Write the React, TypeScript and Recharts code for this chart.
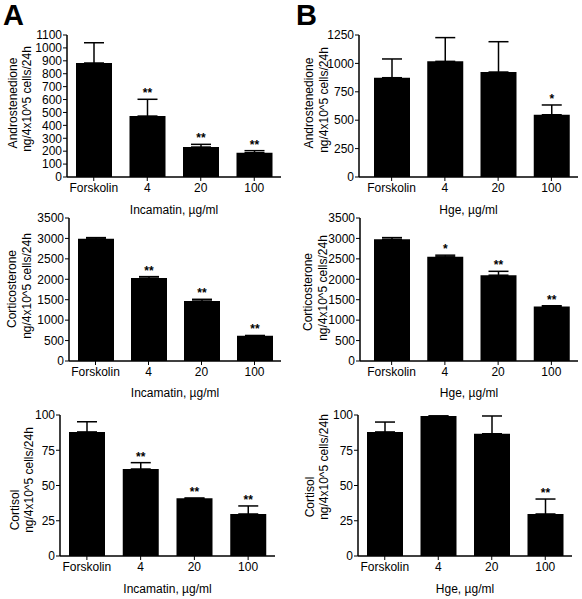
import React from "react";
import { BarChart, Bar, XAxis, YAxis, ErrorBar, LabelList } from "recharts";

const categories = ["Forskolin", "4", "20", "100"];

// A: Incamatin
const androIncValues = [883, 472, 232, 188];
const androIncErr = [157, 130, 21, 16];
const androIncSig = ["", "**", "**", "**"];

const corticoIncValues = [2990, 2030, 1468, 615];
const corticoIncErr = [30, 35, 42, 10];
const corticoIncSig = ["", "**", "**", "**"];

const cortisolIncValues = [88, 61.7, 41, 29.8];
const cortisolIncErr = [7.2, 4.5, 0, 5.7];
const cortisolIncSig = ["", "**", "**", "**"];

// B: Hge
const androHgeValues = [874, 1018, 924, 548];
const androHgeErr = [165, 209, 267, 86];
const androHgeSig = ["", "", "", "*"];

const corticoHgeValues = [2980, 2550, 2100, 1335];
const corticoHgeErr = [40, 40, 95, 18];
const corticoHgeSig = ["", "*", "**", "**"];

const cortisolHgeValues = [88, 99.3, 86.7, 29.8];
const cortisolHgeErr = [7, 0, 12.6, 10.6];
const cortisolHgeSig = ["", "", "", "**"];

const androIncTicks = [0, 100, 200, 300, 400, 500, 600, 700, 800, 900, 1000, 1100];
const androHgeTicks = [0, 250, 500, 750, 1000, 1250];
const corticoTicks = [0, 500, 1000, 1500, 2000, 2500, 3000, 3500];
const cortisolTicks = [0, 25, 50, 75, 100];

const unitLabel = "ng/4x10^5 cells/24h";

type Row = { name: string; value: number; err: number[]; errUp: number; sig: string };

const makeRows = (values: number[], err: number[], sig: string[]): Row[] =>
  categories.map((name, i) => ({
    name,
    value: values[i],
    err: [0, err[i]],
    errUp: err[i],
    sig: sig[i],
  }));

// lab: distance of each y-title line from the axis, labY: centre of each line (local px)
const panels = [
  {
    rows: makeRows(androIncValues, androIncErr, androIncSig),
    ticks: androIncTicks, yTitle: "Androstenedione", xTitle: "Incamatin, µg/ml",
    left: 0, top: 0, h: 220, axisW: 67, mRight: 10, mTop: 35, xH: 43, padL: 0,
    lab: [54, 40], labY: [103, 99], xLabDy: 33,
  },
  {
    rows: makeRows(androHgeValues, androHgeErr, androHgeSig),
    ticks: androHgeTicks, yTitle: "Androstenedione", xTitle: "Hge, µg/ml",
    left: 291, top: 0, h: 220, axisW: 68, mRight: 4, mTop: 35, xH: 43, padL: 6,
    lab: [50, 35], labY: [103, 100], xLabDy: 33,
  },
  {
    rows: makeRows(corticoIncValues, corticoIncErr, corticoIncSig),
    ticks: corticoTicks, yTitle: "Corticosterone", xTitle: "Incamatin, µg/ml",
    left: 0, top: 200, h: 220, axisW: 69, mRight: 10, mTop: 18, xH: 59, padL: 0,
    lab: [57, 42], labY: [89, 86], xLabDy: 32,
  },
  {
    rows: makeRows(corticoHgeValues, corticoHgeErr, corticoHgeSig),
    ticks: corticoTicks, yTitle: "Corticosterone", xTitle: "Hge, µg/ml",
    left: 291, top: 200, h: 220, axisW: 69, mRight: 4, mTop: 18, xH: 59, padL: 5,
    lab: [52, 37], labY: [92, 88], xLabDy: 32,
  },
  {
    rows: makeRows(cortisolIncValues, cortisolIncErr, cortisolIncSig),
    ticks: cortisolTicks, yTitle: "Cortisol", xTitle: "Incamatin, µg/ml",
    left: 0, top: 400, h: 199, axisW: 60, mRight: 16, mTop: 15, xH: 43, padL: 0,
    lab: [45, 31], labY: [110, 80], xLabDy: 33,
  },
  {
    rows: makeRows(cortisolHgeValues, cortisolHgeErr, cortisolHgeSig),
    ticks: cortisolTicks, yTitle: "Cortisol", xTitle: "Hge, µg/ml",
    left: 291, top: 400, h: 199, axisW: 67, mRight: 10, mTop: 15, xH: 43, padL: 0,
    lab: [48, 34], labY: [97, 67], xLabDy: 33,
  },
];

const starLabel = (rows: Row[]) => (props: any) => {
  const { x, y, width, height, index } = props;
  const row = rows[index];
  if (!row || !row.sig) return null;
  const perUnit = Number(height) / row.value;
  const topY = Number(y) - row.errUp * perUnit;
  return (
    <text x={Number(x) + Number(width) / 2} y={topY - 2} textAnchor="middle" fontSize={12} fontWeight="bold" fill="#000">
      {row.sig}
    </text>
  );
};

const Panel = ({ p }: { p: (typeof panels)[number] }) => {
  const max = p.ticks[p.ticks.length - 1];
  return (
    <div style={{ position: "absolute", left: p.left, top: p.top, width: 291, height: p.h }}>
      <BarChart width={291} height={p.h} data={p.rows} margin={{ top: p.mTop, right: p.mRight, bottom: 0, left: 0 }} barSize={36}>
        <XAxis
          dataKey="name"
          interval={0}
          padding={{ left: p.padL, right: 0 }}
          tick={{ fontSize: 12, fill: "#000" }}
          tickSize={4}
          tickMargin={2}
          height={p.xH}
          stroke="#000"
          axisLine={{ stroke: "#000", strokeWidth: 1.5 }}
          label={(lp: any) => {
            const vb = lp.viewBox || {};
            return (
              <text x={vb.x + vb.width / 2} y={vb.y + p.xLabDy} textAnchor="middle" dominantBaseline="central" fontSize={12} fill="#000">
                {p.xTitle}
              </text>
            );
          }}
        />
        <YAxis
          type="number"
          domain={[0, max]}
          ticks={p.ticks}
          interval={0}
          width={p.axisW}
          tick={{ fontSize: 12, fill: "#000" }}
          tickSize={4}
          tickMargin={1}
          stroke="#000"
          axisLine={{ stroke: "#000", strokeWidth: 1.5 }}
          label={(lp: any) => {
            const vb = lp.viewBox || {};
            const ax = vb.x + vb.width;
            const lines = [p.yTitle, unitLabel];
            return (
              <g>
                {lines.map((t, i) => {
                  const tx = ax - p.lab[i];
                  const ty = p.labY[i];
                  return (
                    <text key={i} x={tx} y={ty} transform={`rotate(-90 ${tx} ${ty})`} textAnchor="middle" dominantBaseline="central" fontSize={12} fill="#000">
                      {t}
                    </text>
                  );
                })}
              </g>
            );
          }}
        />
        <Bar dataKey="value" fill="#000" isAnimationActive={false}>
          <ErrorBar dataKey="err" direction="y" width={10} stroke="#000" strokeWidth={1.5} isAnimationActive={false} />
          <LabelList dataKey="sig" content={starLabel(p.rows)} />
        </Bar>
      </BarChart>
    </div>
  );
};

export default function App() {
  return (
    <div
      style={{
        position: "absolute",
        left: 0,
        top: 0,
        width: 582,
        height: 599,
        background: "#fff",
        fontFamily: "'Liberation Sans', Arial, sans-serif",
      }}
    >
      {panels.map((p, i) => (
        <Panel key={i} p={p} />
      ))}
      <svg width={582} height={40} style={{ position: "absolute", left: 0, top: 0 }}>
        <text x={3} y={25} fontSize={29} fontWeight="bold" fill="#000">A</text>
        <text x={296} y={25} fontSize={29} fontWeight="bold" fill="#000">B</text>
      </svg>
    </div>
  );
}
